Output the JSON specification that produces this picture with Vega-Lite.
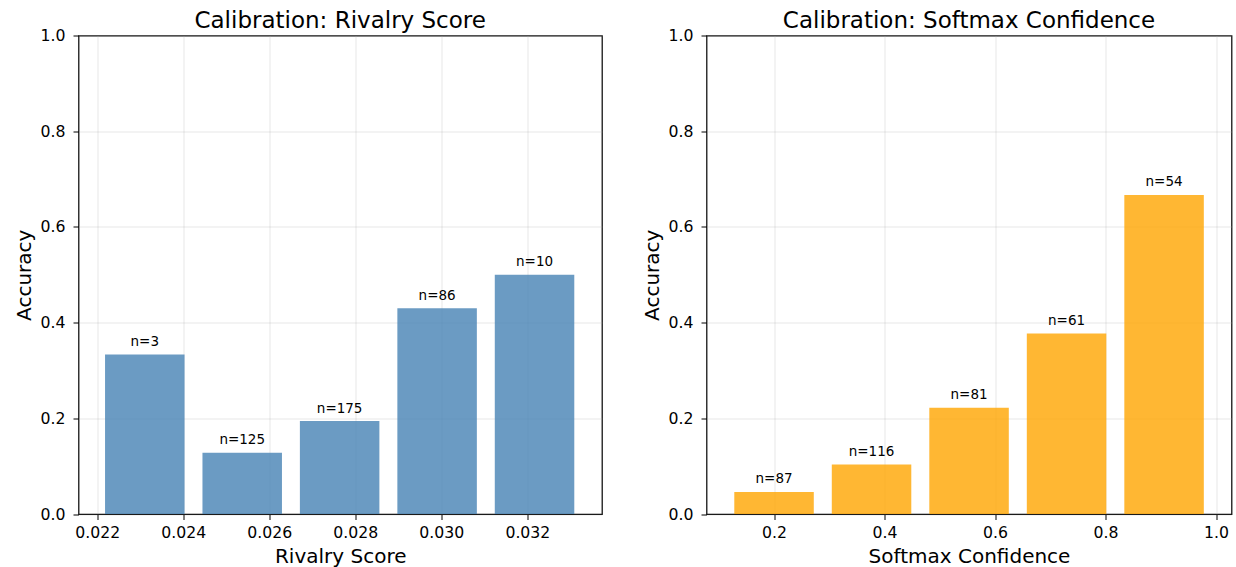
{
  "$schema": "https://vega.github.io/schema/vega-lite/v6.json",
  "padding": {"left": 12.5, "top": 8.5, "right": 0, "bottom": 0},
  "background": "white",
  "config": {
    "font": "DejaVu Sans",
    "view": {"stroke": "black", "strokeWidth": 1.2},
    "title": {"fontSize": 23, "fontWeight": "normal", "color": "black", "offset": -5},
    "axis": {
      "labelFontSize": 15.7, "titleFontSize": 20, "titleFontWeight": "normal",
      "labelColor": "black", "titleColor": "black",
      "tickColor": "black", "tickSize": 5.5, "tickWidth": 1, "domain": false,
      "gridColor": "#b0b0b0", "gridOpacity": 0.3, "gridWidth": 1
    },
    "axisX": {"labelPadding": 5.5, "titlePadding": 7},
    "axisY": {"labelPadding": 8, "titlePadding": 6}
  },
  "spacing": 38,
  "hconcat": [
    {
      "title": "Calibration: Rivalry Score",
      "width": 523.4,
      "height": 478.5,
      "data": {"values": [
        {"score": 0.023106, "accuracy": 0.3333, "label": "n=3"},
        {"score": 0.025371, "accuracy": 0.128, "label": "n=125"},
        {"score": 0.027636, "accuracy": 0.1943, "label": "n=175"},
        {"score": 0.029902, "accuracy": 0.4302, "label": "n=86"},
        {"score": 0.032167, "accuracy": 0.5, "label": "n=10"}
      ]},
      "layer": [
        {
          "mark": {"type": "bar", "color": "steelblue", "opacity": 0.8, "size": 79.5},
          "encoding": {
            "x": {"field": "score", "type": "quantitative", "title": "Rivalry Score",
              "scale": {"domain": [0.021681, 0.033617], "nice": false, "zero": false},
              "axis": {"values": [0.022, 0.024, 0.026, 0.028, 0.030, 0.032], "format": ".3f"}},
            "y": {"field": "accuracy", "type": "quantitative", "title": "Accuracy",
              "scale": {"domain": [0, 1], "nice": false},
              "axis": {"values": [0, 0.2, 0.4, 0.6, 0.8, 1.0], "format": ".1f"}}
          }
        },
        {
          "mark": {"type": "text", "baseline": "alphabetic", "dy": -8.5, "fontSize": 13.5, "color": "black"},
          "encoding": {
            "x": {"field": "score", "type": "quantitative"},
            "y": {"field": "accuracy", "type": "quantitative"},
            "text": {"field": "label"}
          }
        }
      ]
    },
    {
      "title": "Calibration: Softmax Confidence",
      "width": 525,
      "height": 478.5,
      "data": {"values": [
        {"conf": 0.2, "accuracy": 0.046, "label": "n=87"},
        {"conf": 0.3765, "accuracy": 0.1034, "label": "n=116"},
        {"conf": 0.553, "accuracy": 0.2222, "label": "n=81"},
        {"conf": 0.7295, "accuracy": 0.377, "label": "n=61"},
        {"conf": 0.906, "accuracy": 0.6667, "label": "n=54"}
      ]},
      "layer": [
        {
          "mark": {"type": "bar", "color": "orange", "opacity": 0.8, "size": 79.5},
          "encoding": {
            "x": {"field": "conf", "type": "quantitative", "title": "Softmax Confidence",
              "scale": {"domain": [0.0868, 1.019], "nice": false, "zero": false},
              "axis": {"values": [0.2, 0.4, 0.6, 0.8, 1.0], "format": ".1f"}},
            "y": {"field": "accuracy", "type": "quantitative", "title": "Accuracy",
              "scale": {"domain": [0, 1], "nice": false},
              "axis": {"values": [0, 0.2, 0.4, 0.6, 0.8, 1.0], "format": ".1f"}}
          }
        },
        {
          "mark": {"type": "text", "baseline": "alphabetic", "dy": -8.5, "fontSize": 13.5, "color": "black"},
          "encoding": {
            "x": {"field": "conf", "type": "quantitative"},
            "y": {"field": "accuracy", "type": "quantitative"},
            "text": {"field": "label"}
          }
        }
      ]
    }
  ]
}
